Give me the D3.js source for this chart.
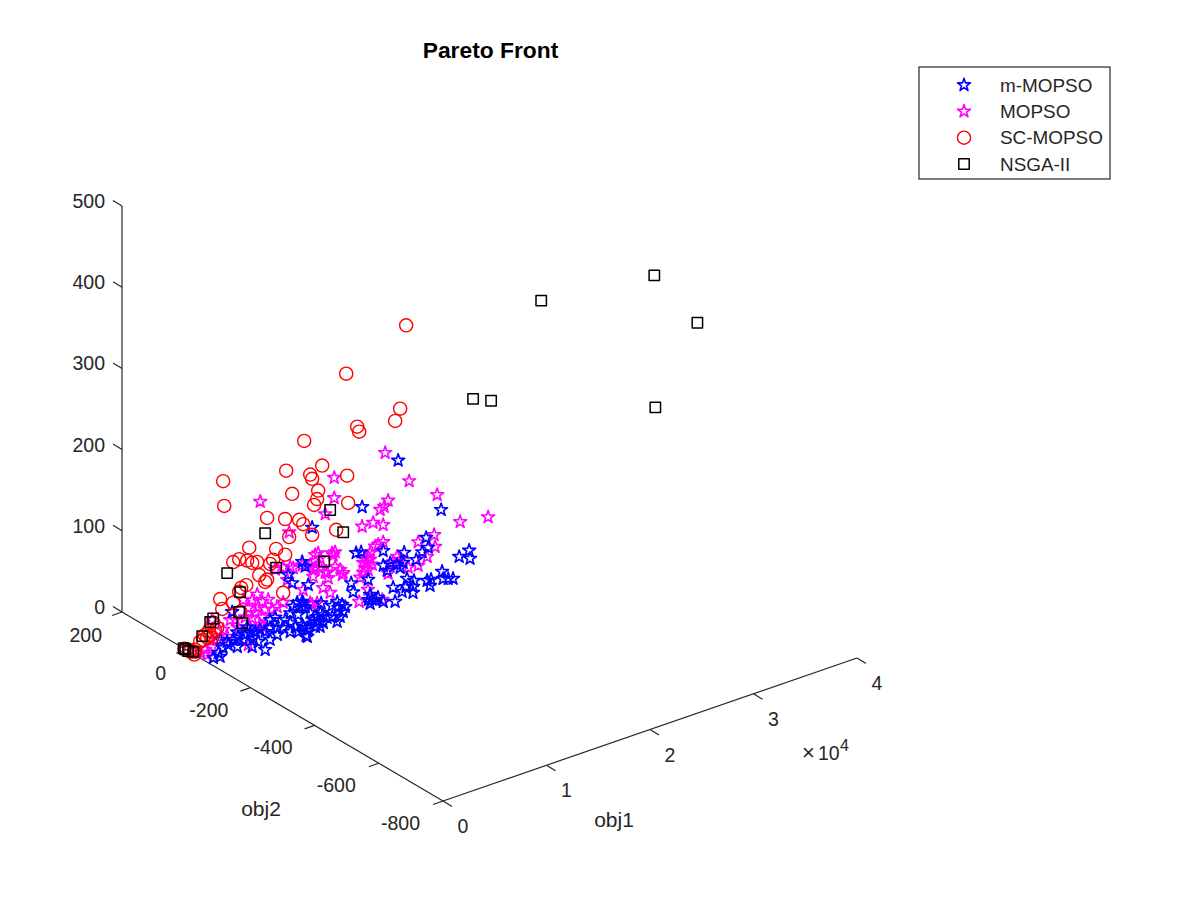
<!DOCTYPE html>
<html>
<head>
<meta charset="utf-8">
<title>Pareto Front</title>
<script src="https://cdn.jsdelivr.net/npm/d3@7"></script>
<style>
  html, body { margin: 0; background: white; }
  text { font-family: "Liberation Sans", Arial, sans-serif; fill: #262626; }
</style>
</head>
<body>
<div id="chart"></div>
<script>
// each point is [obj1, obj2, obj3]
const mMopso = [
  [20480,0,143],[24630,0,64],[17000,0,101],[12170,0,97],[16900,0,46],[16420,0,47],[19030,0,38],[23180,0,36],
  [23380,0,23],[22800,0,20],[22220,0,13],[21060,0,27],[19030,0,20],[19710,0,20],[19420,0,12],[20960,0,15],
  [20670,0,10],[20380,0,15],[27340,0,2],[26250,-4,0],[26710,-23,0],[23670,-34,0],[23610,-70,0],[23300,-65,0],
  [22990,-59,0],[22170,-48,0],[21820,-47,0],[21480,-67,0],[21020,-32,0],[20810,-17,0],[19030,-31,0],[19160,-55,0],
  [19900,-43,0],[19710,-71,0],[20340,-51,0],[17580,0,9],[15940,0,12],[16130,0,0],[11790,0,28],[11210,0,59],
  [11500,0,52],[17700,-80,0],[16960,-67,0],[16900,-28,0],[16260,-43,0],[16500,-47,0],[16680,-51,0],[15970,-58,0],
  [17080,-47,0],[13040,0,0],[13440,-21,0],[14160,-14,0],[14160,-29,0],[14130,-40,0],[13610,-35,0],[13500,-54,0],
  [12800,-67,0],[12100,-80,0],[12310,-58,0],[11900,-55,0],[11960,-41,0],[12000,-31,0],[11400,-41,0],[10840,-46,0],
  [10940,-58,0],[11140,-68,0],[10550,-77,0],[10240,-72,0],[10140,-59,0],[9650,-66,0],[9510,-58,0],[8760,-91,0],
  [11210,0,4],[11300,0,8],[9850,0,49],[10240,0,37],[4440,0,27],[11210,0,10],[10720,0,11],[10340,0,8],
  [10050,0,1],[11500,0,2],[10440,-12,0],[11380,-19,0],[8600,0,2],[8110,0,1],[9130,-14,0],[9130,-30,0],
  [9020,-49,0],[9660,-50,0],[8720,-96,0],[8690,-69,0],[8190,-60,0],[8180,-38,0],[7810,-31,0],[7390,-23,0],
  [6670,-31,0],[6570,-18,0],[6070,-19,0],[5650,-17,0],[5140,-18,0],[4520,-16,0],[3900,-21,0],[3330,-20,0],
  [3110,-6,0],[2450,-36,0],[1640,-47,0],[820,-58,0],[1350,-62,0],[3070,-32,0],[3420,-49,0],[4500,-32,0],
  [5320,-37,0],[5220,-56,0],[4810,-91,0],[6150,-63,0],[7100,-55,0],[4330,-66,0],[4930,0,0],[5890,0,2]
];
const mopso = [
  [19220,0,158],[24250,0,84],[21540,0,113],[19510,0,98],[19130,0,92],[18740,0,90],[26470,0,41],[29170,0,35],
  [23960,0,36],[7150,0,151],[14300,0,149],[14300,0,124],[13430,0,108],[9950,0,101],[17000,0,77],[18060,0,77],
  [19030,0,70],[22410,0,34],[24050,0,21],[19030,0,49],[18550,0,48],[12750,0,63],[12460,0,62],[12940,0,56],
  [14100,0,57],[14390,0,57],[14200,0,54],[11980,0,52],[12460,0,46],[12940,0,45],[12270,0,36],[13720,0,28],
  [13620,0,35],[14390,0,39],[14880,0,33],[15170,0,28],[15070,0,26],[17290,0,37],[17580,0,37],[17770,0,33],
  [17480,0,30],[17100,0,32],[17290,0,25],[17580,0,21],[17100,0,20],[16810,0,15],[17770,0,41],[17970,0,26],
  [20380,0,25],[20000,0,20],[20670,0,20],[19510,0,8],[21450,0,7],[22410,0,5],[23280,0,12],[13230,0,18],
  [13910,0,9],[11300,0,24],[12170,0,2],[15500,-39,0],[17120,-59,0],[17290,-9,0],[18260,0,47],[10050,0,58],
  [9370,0,60],[8600,0,61],[13430,0,36],[6860,0,38],[6380,0,33],[7340,0,27],[6960,0,22],[5990,0,25],
  [7630,0,16],[6670,0,16],[5700,0,15],[6380,0,11],[8310,0,13],[7340,0,8],[9370,0,17],[9760,0,43],
  [10340,0,55],[11210,0,55],[12270,0,45],[11980,0,5],[12650,0,2],[4250,0,18],[3570,0,9],[3850,-4,0],
  [2510,0,26],[2920,-2,0],[1890,-20,0],[1160,-22,0],[550,-26,0],[770,-41,0],[4300,-55,0],[7100,-2,0],[7050,-12,0],
  [7920,0,27],[8790,0,14],[5510,0,37],[4730,0,16],[5020,0,5],[6180,0,0]
];
const scMopso = [
  [21250,0,306],[15460,0,272],[20670,0,206],[16520,0,202],[16710,0,195],[20190,0,193],[11400,0,207],[13140,0,169],
  [9660,0,178],[11980,0,163],[12170,0,157],[15550,0,146],[3570,0,192],[12750,0,140],[10240,0,147],[12650,0,130],
  [12360,0,124],[3670,0,161],[15650,0,112],[7820,0,128],[9560,0,119],[10920,0,112],[11300,0,105],[14490,0,84],
  [12170,0,88],[9950,0,95],[6090,0,99],[8690,0,86],[9560,0,75],[8400,0,74],[8110,0,70],[6860,0,78],
  [6380,0,79],[5890,0,84],[5120,0,89],[4540,0,88],[7050,0,61],[7820,0,52],[7630,0,50],[5800,0,54],
  [5310,0,53],[5120,0,49],[9370,0,29],[3280,0,48],[4540,0,38],[3480,0,35],[5220,0,24],[2610,0,22],
  [2800,0,12],[2990,0,14],[2320,0,8],[2510,0,4],[2030,0,6],[1640,0,5],[1350,0,4],[550,-10,0],
  [40,-11,0],[0,0,0],[0,-25,0],[0,5,0],[200,-5,0],[300,-15,0],[1800,0,10],[2200,0,14]
];
const nsga2 = [
  [38000,-233,348],[39000,-335,309],[35000,-333,222],[34300,0,279],[27720,0,187],[29460,0,177],[13910,0,111],[7630,0,110],
  [15170,0,78],[3960,0,77],[8690,0,63],[13330,0,50],[5120,0,24],[5410,0,9],[2610,0,27],[2320,0,24],
  [1550,0,10],[5220,0,48],[0,3,0],[0,-6,0],[220,-15,0],[0,8,0]
];

const obj1Ticks = [0, 10000, 20000, 30000, 40000];
const obj2Ticks = [200, 0, -200, -400, -600, -800];
const obj3Ticks = [0, 100, 200, 300, 400, 500];
const legendNames = ["m-MOPSO", "MOPSO", "SC-MOPSO", "NSGA-II"];

const width = 1200, height = 900;

const svg = d3.select("#chart").append("svg")
  .attr("width", width)
  .attr("height", height)
  .style("display", "block");

// the box is seen from an angle, so each data axis moves the point on both screen directions
const obj1X = d3.scaleLinear().domain([0, 40000]).range([0, 414]);
const obj1Y = d3.scaleLinear().domain([0, 40000]).range([0, -143]);
const obj2X = d3.scaleLinear().domain([-800, 200]).range([443, 122]);
const obj2Y = d3.scaleLinear().domain([-800, 200]).range([801, 612]);
const obj3Y = d3.scaleLinear().domain([0, 500]).range([0, -406]);

const px = d => obj1X(d[0]) + obj2X(d[1]);
const py = d => obj1Y(d[0]) + obj2Y(d[1]) + obj3Y(d[2]);

const line = (a, b, dx, dy) => svg.append("line")
  .attr("x1", px(a)).attr("y1", py(a))
  .attr("x2", b ? px(b) : px(a) + dx).attr("y2", b ? py(b) : py(a) + dy)
  .attr("stroke", "#262626").attr("stroke-width", 1.2);

// axes
line([0, -800, 0], [40000, -800, 0]);
line([0, -800, 0], [0, 200, 0]);
line([0, 200, 0], [0, 200, 500]);

obj1Ticks.forEach(t => {
  line([t, -800, 0], null, 9, 5.5);
  svg.append("text")
    .attr("x", px([t, -800, 0]) + 20).attr("y", py([t, -800, 0]) + 32)
    .attr("text-anchor", "middle").attr("font-size", 19.5)
    .text(t / 10000);
});
// tick labels sit a little unevenly in the original, so this nudges them by hand
const obj2Nudge = [2, 2, 0, 0, -1, -1];
obj2Ticks.forEach((t, i) => {
  line([0, t, 0], null, -10, 3.5);
  svg.append("text")
    .attr("x", px([0, t, 0]) - 22 + obj2Nudge[i]).attr("y", py([0, t, 0]) + 30 - (i > 1 ? 1 : 0))
    .attr("text-anchor", "end").attr("font-size", 19.5)
    .text(t);
});
obj3Ticks.forEach(t => {
  line([0, 200, t], null, -9, -5.5);
  svg.append("text")
    .attr("x", 105).attr("y", py([0, 200, t]) + 2)
    .attr("text-anchor", "end").attr("font-size", 19.5)
    .text(t);
});

svg.append("text").attr("x", 802).attr("y", 760).attr("font-size", 22).text("\u00d7");
svg.append("text").attr("x", 818).attr("y", 760).attr("font-size", 19.5).text("10");
svg.append("text").attr("x", 840).attr("y", 751).attr("font-size", 16).text("4");

svg.append("text").attr("x", 614).attr("y", 827).attr("text-anchor", "middle").attr("font-size", 21).text("obj1");
svg.append("text").attr("x", 261).attr("y", 816).attr("text-anchor", "middle").attr("font-size", 21).text("obj2");

svg.append("text")
  .attr("x", 490.5).attr("y", 58)
  .attr("text-anchor", "middle")
  .attr("font-size", 22.8).attr("font-weight", "bold")
  .style("fill", "black")
  .text("Pareto Front");

// markers
const star = d3.symbol().type(d3.symbolStar).size(52);
const circle = d3.symbol().type(d3.symbolCircle).size(135);
const square = d3.symbol().type(d3.symbolSquare).size(108);

const series = [
  {name: legendNames[0], data: mMopso, color: "#0000ff", shape: star, w: 1.6, order: 1},
  {name: legendNames[1], data: mopso, color: "#ff00ff", shape: star, w: 1.6, order: 0},
  {name: legendNames[2], data: scMopso, color: "#ff0000", shape: circle, w: 1.4, order: 2},
  {name: legendNames[3], data: nsga2, color: "#000000", shape: square, w: 1.5, order: 3}
];

series.slice().sort((a, b) => a.order - b.order).forEach(s => {
  svg.append("g").selectAll("path")
    .data(s.data)
    .enter().append("path")
      .attr("d", s.shape)
      .attr("transform", d => `translate(${px(d)},${py(d)})`)
      .attr("fill", "none")
      .attr("stroke", s.color)
      .attr("stroke-width", s.w)
      .attr("stroke-linejoin", "round");
});

// legend
svg.append("rect")
  .attr("x", 919).attr("y", 67).attr("width", 191).attr("height", 112)
  .attr("fill", "white").attr("stroke", "#262626").attr("stroke-width", 1.2);

const legendY = d3.scalePoint().domain(legendNames).range([85, 164]);

series.forEach(s => {
  svg.append("path")
    .attr("d", s.shape)
    .attr("transform", `translate(964,${legendY(s.name)})`)
    .attr("fill", "none")
    .attr("stroke", s.color)
    .attr("stroke-width", s.w)
    .attr("stroke-linejoin", "round");
  svg.append("text")
    .attr("x", 1000).attr("y", legendY(s.name) + 6.5)
    .attr("font-size", 18.9)
    .text(s.name);
});
</script>
</body>
</html>
